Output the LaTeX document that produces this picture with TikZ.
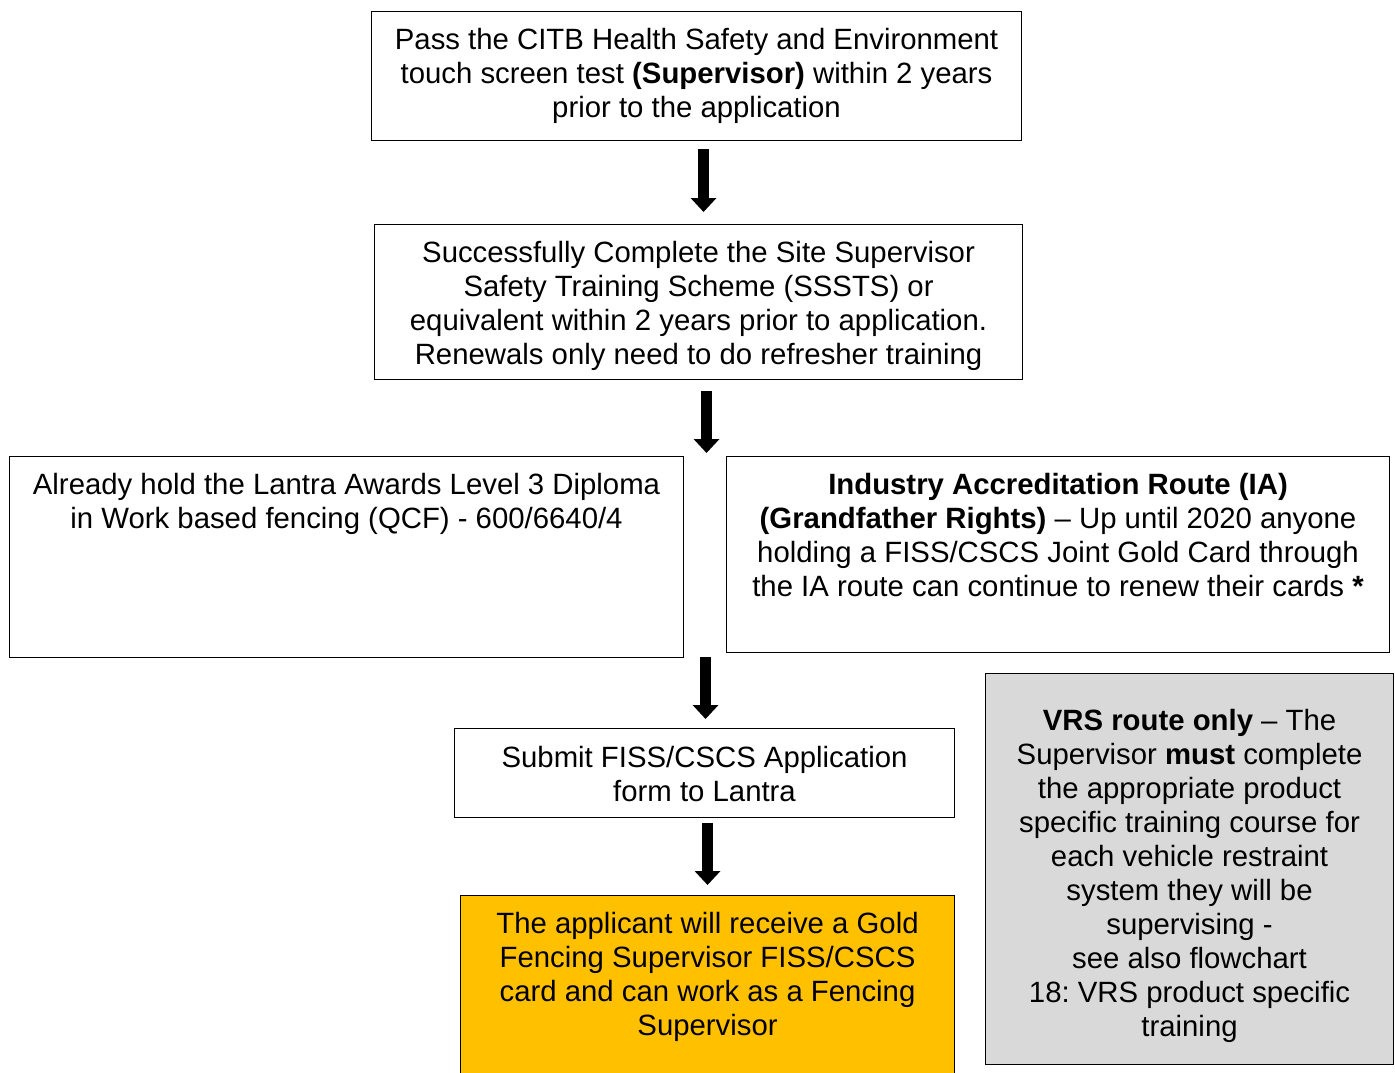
\documentclass[tikz,border=0pt]{standalone}
\usepackage{fontspec}
\setmainfont{Liberation Sans}
\frenchspacing
\usetikzlibrary{arrows.meta}
\definecolor{gold}{HTML}{FFC000}
\definecolor{lgray}{HTML}{D9D9D9}
\newcommand{\boxtxt}[4]{\parbox[t][#2][t]{#1}{\centering\frenchspacing\rule{0pt}{#3}#4}}
\tikzset{
  box/.style={draw=black, line width=0.8pt, inner sep=0pt, anchor=north west,
    font=\fontsize{22pt}{25.5pt}\selectfont},
  bigarrow/.style={line width=8.25pt, -{Triangle[width=18.75pt,length=10.5pt]}}
}
\begin{document}
\begin{tikzpicture}[x=0.75pt,y=-0.75pt]
\useasboundingbox (0,0) rectangle (1395,1072);
\clip (0,0) rectangle (1395,1072);
\fill[white] (0,0) rectangle (1395,1072);

\node[box] (b1) at (371,11) {\boxtxt{487.5pt}{96.75pt}{28.25pt}{Pass the CITB Health Safety and Environment\\touch screen test \textbf{(Supervisor)} within 2 years\\prior to the application}};

\node[box] (b2) at (374,224) {\boxtxt{486pt}{116.25pt}{28.25pt}{Successfully Complete the Site Supervisor\\Safety Training Scheme (SSSTS) or\\equivalent within 2 years prior to application.\\Renewals only need to do refresher training}};

\node[box] (b3) at (9,456) {\boxtxt{505.5pt}{150.75pt}{28.25pt}{Already hold the Lantra Awards Level 3 Diploma\\in Work based fencing (QCF) - 600/6640/4}};

\node[box] (b4) at (726,456) {\boxtxt{497.25pt}{147pt}{28.25pt}{\textbf{Industry Accreditation Route (IA)}\\\textbf{(Grandfather Rights)} -- Up until 2020 anyone\\holding a FISS/CSCS Joint Gold Card through\\the IA route can continue to renew their cards \textbf{*}}};

\node[box] (b5) at (454,728) {\boxtxt{375pt}{66.75pt}{29pt}{Submit FISS/CSCS Application\\form to Lantra}};

\node[box, fill=gold] (b6) at (460,895) {\boxtxt{370.5pt}{142.5pt}{28.25pt}{The applicant will receive a Gold\\Fencing Supervisor FISS/CSCS\\card and can work as a Fencing\\Supervisor}};

\node[box, fill=lgray] (b7) at (985,673) {\boxtxt{306pt}{293.25pt}{42.75pt}{\textbf{VRS route only} -- The\\Supervisor \textbf{must} complete\\the appropriate product\\specific training course for\\each vehicle restraint\\system they will be\\supervising -\\see also flowchart\\18: VRS product specific\\training}};

\draw[bigarrow, shorten <=6pt, shorten >=9pt]
  ([xshift=5.25pt]b1.south) -- ([xshift=5.25pt]b1.south |- b2.north);
\draw[bigarrow, shorten <=8.25pt, shorten >=2.25pt]
  ([xshift=6pt]b2.south) -- ([xshift=6pt]b2.south |- b4.north);
\draw[bigarrow, shorten <=3pt, shorten >=6.75pt]
  ([xshift=0.75pt]b5.north |- b4.south) -- ([xshift=0.75pt]b5.north);
\draw[bigarrow, shorten <=3.75pt, shorten >=7.5pt]
  ([xshift=2.25pt]b5.south) -- ([xshift=2.25pt]b5.south |- b6.north);
\end{tikzpicture}
\end{document}
